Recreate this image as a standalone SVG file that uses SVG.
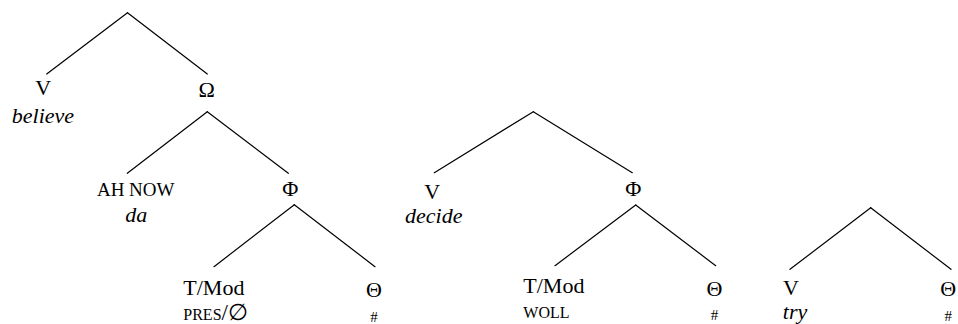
<svg xmlns="http://www.w3.org/2000/svg" width="958" height="324" viewBox="0 0 958 324" font-family="'Liberation Serif', 'DejaVu Serif', serif" font-size="22">
  <style>
    .c { text-anchor: middle; }
    .it { font-style: italic; }
    .sc { font-variant: small-caps; font-size: 23px; }
    .caps { font-size: 19px; }
    .hash { font-size: 15px; }
    .edges line { stroke: #000; stroke-width: 1.2; stroke-linecap: round; }
  </style>

  <!-- branches -->
  <g id="connectors" class="edges">
    <!-- tree 1 -->
    <line x1="127.5" y1="12.7" x2="46.7" y2="74"/>
    <line x1="127.5" y1="12.7" x2="207.3" y2="74"/>
    <line x1="207.3" y1="111.7" x2="127.3" y2="173.3"/>
    <line x1="207.3" y1="111.7" x2="288.3" y2="173.3"/>
    <line x1="294.3" y1="204.7" x2="214" y2="266.7"/>
    <line x1="294.3" y1="204.7" x2="375" y2="266.7"/>
    <!-- tree 2 -->
    <line x1="533.3" y1="111.7" x2="434.3" y2="172.7"/>
    <line x1="533.3" y1="111.7" x2="632.3" y2="172.7"/>
    <line x1="635.7" y1="205" x2="555" y2="265.7"/>
    <line x1="635.7" y1="205" x2="715.7" y2="265.7"/>
    <!-- tree 3 -->
    <line x1="870.7" y1="207.7" x2="790" y2="269.3"/>
    <line x1="870.7" y1="207.7" x2="951" y2="269.3"/>
  </g>

  <!-- tree 1 nodes -->
  <g id="t1-v">
    <text class="c" x="43.3" y="95">V</text>
    <text class="c it" x="43" y="122.7">believe</text>
  </g>
  <g id="t1-omega">
    <text class="c" x="206.7" y="97.3">Ω</text>
  </g>
  <g id="t1-ahnow">
    <text class="c caps" x="135.7" y="196">AH NOW</text>
    <text class="c it" x="136.3" y="221.7">da</text>
  </g>
  <g id="t1-phi">
    <text class="c" x="290.3" y="196">Φ</text>
  </g>
  <g id="t1-tmod">
    <text x="183.3" y="295">T/Mod</text>
    <text class="sc" x="183.3" y="320">pres/∅</text>
  </g>
  <g id="t1-theta">
    <text class="c" x="374" y="296.7">Θ</text>
    <text class="c hash" x="374" y="322">#</text>
  </g>

  <!-- tree 2 nodes -->
  <g id="t2-v">
    <text class="c" x="432.3" y="199">V</text>
    <text class="c it" x="433.7" y="223.3">decide</text>
  </g>
  <g id="t2-phi">
    <text class="c" x="633.3" y="196">Φ</text>
  </g>
  <g id="t2-tmod">
    <text x="523.3" y="293.3">T/Mod</text>
    <text class="sc" x="523.3" y="318.3">woll</text>
  </g>
  <g id="t2-theta">
    <text class="c" x="714.5" y="296">Θ</text>
    <text class="c hash" x="714.5" y="319.5">#</text>
  </g>

  <!-- tree 3 nodes -->
  <g id="t3-v">
    <text class="c" x="791" y="295">V</text>
    <text class="c it" x="795" y="319.3">try</text>
  </g>
  <g id="t3-theta">
    <text class="c" x="948.3" y="296">Θ</text>
    <text class="c hash" x="948.3" y="321">#</text>
  </g>
</svg>
